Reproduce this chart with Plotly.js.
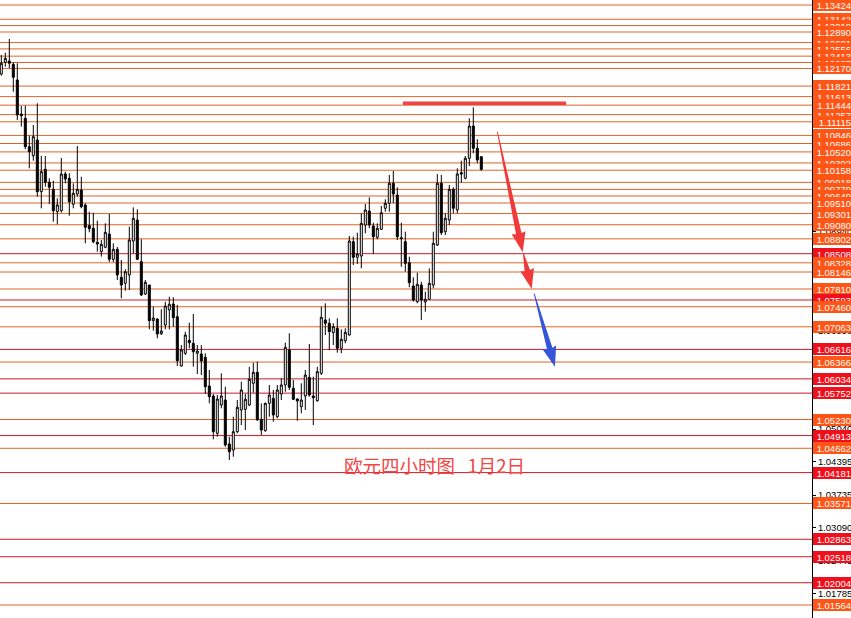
<!DOCTYPE html>
<html><head><meta charset="utf-8">
<script src="https://cdn.plot.ly/plotly-3.0.1.min.js"></script>
<style>html,body{margin:0;padding:0;background:#fff;}#chart{width:851px;height:618px;}</style>
</head><body><div id="chart"></div>
<script>
// ---- candle data (EURUSD H4) ----
const opens = [1.12060,1.12292,1.12317,1.12252,1.11942,1.11270,1.11185,1.10623,1.10445,1.10756,
1.09734,1.10176,1.09920,1.09781,1.09338,1.09358,1.10084,1.09999,1.09485,1.09688,
1.09767,1.09471,1.09062,1.09010,1.08734,1.08548,1.08635,1.08898,1.08397,1.08595,
1.08042,1.07923,1.08087,1.08759,1.09174,1.08350,1.07712,1.07889,1.07184,1.07217,
1.06927,1.07099,1.07395,1.07514,1.07263,1.06288,1.06539,1.06796,1.06737,1.06539,
1.06526,1.06460,1.05893,1.05695,1.04958,1.05517,1.05616,1.04747,1.04628,1.04990,
1.05419,1.05432,1.05517,1.05946,1.06164,1.05235,1.05009,1.05551,1.05650,1.05286,
1.05735,1.05913,1.06605,1.05848,1.05636,1.05484,1.05695,1.06065,1.05695,1.05602,
1.06144,1.07198,1.07132,1.06947,1.07034,1.06638,1.06788,1.06901,1.08745,1.08437,
1.08463,1.09075,1.09352,1.09056,1.08832,1.08990,1.09406,1.09504,1.09900,1.09668,
1.08824,1.08745,1.08330,1.07870,1.07559,1.07889,1.07553,1.07607,1.07889,1.08680,
1.09900,1.08943,1.09174,1.09781,1.09372,1.10109,1.09999,1.10394,1.11032,1.10592,
1.10426];
const highs = [1.12436,1.12481,1.12752,1.12292,1.12272,1.11428,1.11434,1.10841,1.11052,1.11481,
1.10445,1.10439,1.09999,1.09951,1.09603,1.10400,1.10129,1.10097,1.09900,1.10637,
1.10030,1.09504,1.09338,1.09319,1.09160,1.08779,1.09109,1.09293,1.08714,1.08641,
1.08384,1.08200,1.09042,1.09425,1.09386,1.08793,1.07988,1.07889,1.07461,1.07231,
1.07409,1.07559,1.07658,1.07646,1.07494,1.06703,1.06966,1.07144,1.07316,1.06703,
1.06703,1.06539,1.06209,1.05735,1.05715,1.06144,1.05879,1.04891,1.05286,1.05616,
1.05978,1.05735,1.06274,1.06354,1.06373,1.05551,1.05563,1.05913,1.05814,1.05913,
1.06045,1.06749,1.06935,1.06012,1.05650,1.05946,1.06209,1.06723,1.06077,1.06274,
1.07461,1.07528,1.07231,1.07132,1.07231,1.07014,1.07034,1.08858,1.08844,1.08923,
1.09307,1.09491,1.09623,1.09121,1.09109,1.09451,1.09583,1.10064,1.10143,1.09821,
1.09121,1.08943,1.08449,1.08042,1.08133,1.07955,1.07757,1.08220,1.08943,1.10084,
1.10064,1.09307,1.09866,1.09821,1.10196,1.10346,1.10439,1.11185,1.11402,1.10770,
1.10426];
const lows = [1.12027,1.12205,1.12179,1.11710,1.11151,1.11019,1.10572,1.10196,1.10346,1.09635,
1.09406,1.09833,1.09491,1.09141,1.09089,1.09319,1.09900,1.09259,1.09406,1.09635,
1.09406,1.08714,1.08931,1.08714,1.08548,1.08449,1.08615,1.08344,1.08344,1.07988,
1.07627,1.07777,1.07791,1.08516,1.08384,1.07672,1.07692,1.07014,1.06986,1.06836,
1.06901,1.07014,1.07014,1.07065,1.06288,1.06278,1.06506,1.06638,1.06274,1.06130,
1.06110,1.05735,1.05551,1.04839,1.04891,1.05452,1.04693,1.04430,1.04495,1.04958,
1.05122,1.05023,1.05498,1.05761,1.05207,1.04924,1.04990,1.05286,1.05187,1.05255,
1.05616,1.05780,1.05814,1.05616,1.05207,1.05353,1.05419,1.05681,1.05122,1.05583,
1.06110,1.06901,1.06605,1.06703,1.06551,1.06539,1.06737,1.06891,1.08285,1.08305,
1.08220,1.08911,1.09010,1.08502,1.08793,1.08977,1.09338,1.09338,1.09504,1.08779,
1.08251,1.08152,1.07844,1.07559,1.07528,1.07198,1.07362,1.07593,1.07824,1.08660,
1.08878,1.08878,1.09075,1.09307,1.09307,1.09912,1.09979,1.10242,1.10493,1.10295,
1.10149];
const closes = [1.12272,1.12371,1.12272,1.11995,1.11250,1.11236,1.10623,1.10524,1.10821,1.09734,
1.10129,1.09920,1.09821,1.09358,1.09471,1.10084,1.09985,1.09536,1.09702,1.09781,
1.09437,1.09030,1.09002,1.08745,1.08700,1.08694,1.08931,1.08397,1.08595,1.08087,
1.07889,1.08152,1.08779,1.09208,1.08397,1.07692,1.07943,1.07184,1.07237,1.06921,
1.06980,1.07474,1.07508,1.07243,1.06393,1.06605,1.06901,1.06749,1.06571,1.06585,
1.06387,1.05879,1.05681,1.04990,1.05636,1.05695,1.04727,1.04594,1.04990,1.05472,
1.05814,1.05630,1.06025,1.06164,1.05221,1.05023,1.05551,1.05715,1.05320,1.05814,
1.05913,1.06658,1.05867,1.05630,1.05596,1.05616,1.06110,1.05715,1.05662,1.06176,
1.07251,1.07132,1.06966,1.07065,1.06638,1.06816,1.06954,1.08759,1.08437,1.08502,
1.09109,1.09372,1.09075,1.08844,1.09010,1.09319,1.09504,1.09900,1.09688,1.08844,
1.08805,1.08318,1.07935,1.07593,1.07903,1.07593,1.07607,1.07923,1.08714,1.09900,
1.08923,1.09208,1.09781,1.09406,1.10084,1.10084,1.10394,1.11032,1.10592,1.10360,
1.10176];

// ---- horizontal price levels ----
const orangeLevels = [1.13424,1.13142,1.13018,1.12890,1.12681,1.12556,1.12413,1.12287,1.12170,
1.11821,1.11613,1.11444,1.11257,1.11115,1.10846,1.10686,1.10520,1.10302,1.10158,1.09918,1.09779,
1.09649,1.09510,1.09301,1.09080,1.08802,1.08328,1.08146,1.07810,1.07460,1.07063,1.06366,
1.05230,1.04662,1.03571,1.01564];
const redLevels = [1.08508,1.07593,1.06616,1.06034,1.05752,1.04913,1.04181,1.02863,1.02518,1.02004];
const scaleTicks = [1.01785,1.02445,1.03090,1.03735,1.04395,1.05040,1.05700,1.06345,1.06990,
1.07635,1.08295,1.08940,1.09600,1.10245,1.10890,1.11550,1.12195,1.12840,1.13485];

// ---- drawn objects ----
const resistanceX = [101.4, 142.2];
const resistanceY = [1.11483, 1.11483];
const arrowTailX = [125.0, 131.5, 134.2];
const arrowTailY = [1.10920, 1.08516, 1.07725];
const arrowTipX = [131.35, 133.6, 139.4];
const arrowTipY = [1.08536, 1.07810, 1.06274];
const arrowColors = ['#F03A3A', '#F03A3A', '#3556D8'];
const captionText = '欧元四小时图&nbsp;&nbsp;&nbsp;1月2日';
const captionX = [109.2];
const captionY = [1.04331];

// ---- layout constants ----
const W = 851, H = 618, R = 39;
const xr = [0.675, 203.675];
const yr = [1.01307, 1.135228];
const plotW = W - R, plotH = H;
const pxX = plotW / (xr[1] - xr[0]);
const pxY = plotH / (yr[1] - yr[0]);

const bars = opens.map((_, i) => i + 1);

const traces = [];
traces.push({
  type: 'candlestick', x: bars, open: opens, high: highs, low: lows, close: closes,
  increasing: {line: {color: '#000000', width: 1}, fillcolor: '#FFFFFF'},
  decreasing: {line: {color: '#000000', width: 1}, fillcolor: '#000000'},
  whiskerwidth: 0, hoverinfo: 'skip', showlegend: false
});
traces.push({
  type: 'scatter', mode: 'lines', x: resistanceX, y: resistanceY,
  line: {color: '#EE4444', width: 3.5}, hoverinfo: 'skip', showlegend: false
});

// arrows: tapered shaft + head, built from tail/tip points
function toPx(x, y) { return [(x - xr[0]) * pxX, (yr[1] - y) * pxY]; }
function toData(px, py) { return [px / pxX + xr[0], yr[1] - py / pxY]; }
for (let i = 0; i < arrowTailX.length; i++) {
  const t = toPx(arrowTailX[i], arrowTailY[i]);
  const p = toPx(arrowTipX[i], arrowTipY[i]);
  const dx = p[0] - t[0], dy = p[1] - t[1];
  const L = Math.hypot(dx, dy);
  const ux = dx / L, uy = dy / L, nx = -uy, ny = ux;
  const headL = 17, headW = 7, shaftW = 2.8, tailW = 0.4;
  const bx = p[0] - ux * headL, by = p[1] - uy * headL;
  const pts = [
    [t[0] + nx * tailW, t[1] + ny * tailW],
    [bx + nx * shaftW - ux * 2, by + ny * shaftW - uy * 2],
    [bx + nx * headW - ux * 3, by + ny * headW - uy * 3],
    [p[0], p[1]],
    [bx - nx * headW - ux * 3, by - ny * headW - uy * 3],
    [bx - nx * shaftW - ux * 2, by - ny * shaftW - uy * 2],
    [t[0] - nx * tailW, t[1] - ny * tailW]
  ].map(q => toData(q[0], q[1]));
  pts.push(pts[0]);
  traces.push({
    type: 'scatter', mode: 'lines', x: pts.map(q => q[0]), y: pts.map(q => q[1]),
    fill: 'toself', fillcolor: arrowColors[i], line: {width: 0, color: arrowColors[i]},
    hoverinfo: 'skip', showlegend: false
  });
}

const levels = orangeLevels.map(v => ({v, c: 'o'})).concat(redLevels.map(v => ({v, c: 'r'})))
  .sort((a, b) => b.v - a.v);
const lineCol = {o: '#DE6426', r: '#CC1A28'};
const boxCol = {o: '#FF5516', r: '#F0101C'};

const shapes = levels.map(l => ({
  type: 'line', xref: 'paper', x0: 0, x1: 1, yref: 'y', y0: l.v, y1: l.v,
  line: {color: lineCol[l.c], width: 1}, layer: 'below'
}));

const annotations = levels.map(l => ({
  xref: 'paper', x: 1, xanchor: 'left', xshift: 1,
  yref: 'y', y: l.v, yanchor: 'middle',
  text: l.v.toFixed(5), showarrow: false,
  bgcolor: boxCol[l.c], borderpad: 0, borderwidth: 0,
  width: 38, height: 12, align: 'right',
  font: {family: 'Liberation Sans, Arial, sans-serif', size: 9.5, color: '#FFFFFF'}
}));
annotations.push({
  xref: 'x', yref: 'y', x: captionX[0], y: captionY[0], text: captionText, showarrow: false,
  xanchor: 'center', yanchor: 'middle',
  font: {family: 'Noto Sans CJK SC, sans-serif', size: 18.5, color: '#F04646'}
});

const layout = {
  width: W, height: H,
  margin: {l: 0, r: R, t: 0, b: 0, pad: 0},
  paper_bgcolor: '#FFFFFF', plot_bgcolor: '#FFFFFF',
  showlegend: false, boxgap: 0.5, boxgroupgap: 0,
  xaxis: {range: xr, visible: false, fixedrange: true, rangeslider: {visible: false}},
  yaxis: {
    range: [yr[0], yr[1]], side: 'right', showgrid: false, zeroline: false,
    showline: true, linecolor: '#000000', linewidth: 1,
    tickmode: 'array', tickvals: scaleTicks, ticktext: scaleTicks.map(v => v.toFixed(5)),
    ticks: 'outside', ticklen: 3, tickcolor: '#000000',
    tickfont: {family: 'Liberation Sans, Arial, sans-serif', size: 9.5, color: '#000000'},
    fixedrange: true
  },
  shapes, annotations
};
Plotly.newPlot('chart', traces, layout, {displayModeBar: false, staticPlot: true});
</script></body></html>
